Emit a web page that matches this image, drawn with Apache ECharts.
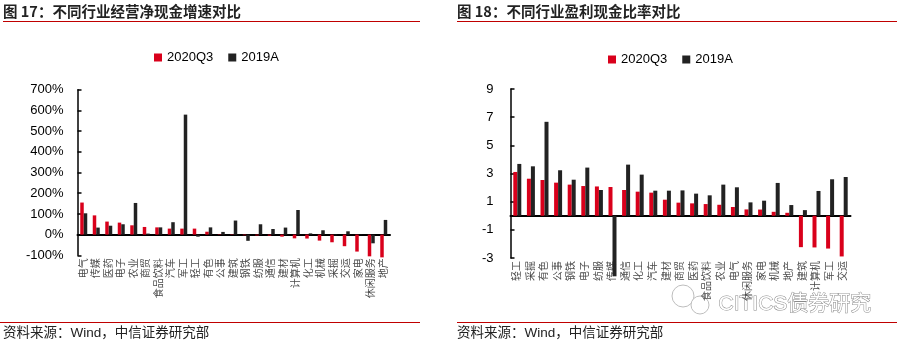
<!DOCTYPE html>
<html><head><meta charset="utf-8">
<script src="https://cdn.jsdelivr.net/npm/echarts@6/dist/echarts.min.js"></script>
<style>html,body{margin:0;padding:0;background:#fff}#c{width:902px;height:345px}</style>
</head><body><div id="c"></div>
<script>
// ---- Chart 17 data ----
var cats1 = ['电气','传媒','医药','电子','农业','商贸','食品饮料','汽车','军工','轻工','有色','公事','建筑','钢铁','纺服','通信','建材','计算机','化工','机械','采掘','交运','家电','休闲服务','地产'];
var q3_1 = [155, 93, 63, 58, 45, 37, 35, 29, 29, 29, 14, 2, -2, -3, -4, -5, -10, -18, -19, -29, -37, -56, -82, -105, -110];
var a_1  = [103, 34, 43, 50, 153, 5, 35, 60, 580, -10, 35, 13, 68, -30, 50, 27, 34, 119, 6, 21, -3, 16, 1, -42, 71];
var yTicks1 = [-100, 0, 100, 200, 300, 400, 500, 600, 700];
// ---- Chart 18 data ----
var cats2 = ['轻工','采掘','有色','公事','钢铁','电子','纺服','传媒','通信','化工','汽车','建材','商贸','医药','食品饮料','农业','电气','休闲服务','家电','机械','地产','建筑','计算机','军工','交运'];
var q3_2 = [3.11, 2.63, 2.54, 2.35, 2.21, 2.11, 2.08, 2.04, 1.83, 1.71, 1.64, 1.14, 0.93, 0.88, 0.83, 0.78, 0.62, 0.45, 0.44, 0.28, 0.21, -2.23, -2.25, -2.33, -2.89];
var a_2  = [3.68, 3.51, 6.67, 3.23, 2.56, 3.42, 1.83, -4.3, 3.63, 2.92, 1.78, 1.78, 1.80, 1.57, 1.45, 2.21, 2.02, 0.95, 1.07, 2.33, 0.76, 0.40, 1.76, 2.59, 2.75];
var yTicks2 = [-3, -1, 1, 3, 5, 7, 9];
var seriesNames = ['2020Q3', '2019A'];
var title1 = '图 17：不同行业经营净现金增速对比';
var title2 = '图 18：不同行业盈利现金比率对比';
var source = '资料来源：Wind，中信证券研究部';

var RED = '#d9001b', BLK = '#222222';
var FONT = "'Liberation Sans','Noto Sans CJK SC',sans-serif";
var chart = echarts.init(document.getElementById('c'), null, {renderer: 'canvas'});

function xAxes(cats, gi) {
  return [{
    type: 'category', gridIndex: gi, data: cats, position: 'bottom',
    axisLine: {show: false, onZero: false}, axisTick: {show: false},
    axisLabel: {rotate: 90, margin: 3, fontSize: 10, color: '#4a4a4a', fontFamily: FONT, interval: 0}
  }, {
    type: 'category', gridIndex: gi, data: cats, position: 'bottom',
    axisLine: {show: true, onZero: true, lineStyle: {color: '#000', width: 2}},
    axisTick: {show: false}, axisLabel: {show: false}
  }];
}

var yAxisCommon = {
  axisLine: {show: true, lineStyle: {color: '#000', width: 1.5}},
  axisTick: {show: true, inside: true, length: 4, lineStyle: {color: '#000', width: 1.5}},
  splitLine: {show: false}
};

function barSeries(name, data, color, xi, yi, bw) {
  return {
    type: 'bar', name: name, data: data, xAxisIndex: xi, yAxisIndex: yi,
    barWidth: bw, barGap: '0%', clip: false,
    itemStyle: {color: color}
  };
}

var option = {
  animation: false,
  textStyle: {fontFamily: FONT},
  grid: [
    {left: 77.5, top: 89.8, width: 312.5, height: 165.5},
    {left: 510.5, top: 89, width: 340, height: 169}
  ],
  legend: [
    {data: seriesNames, left: 149, top: 46, icon: 'rect', itemWidth: 8, itemHeight: 8, itemGap: 15,
     textStyle: {fontSize: 13, color: '#000', fontFamily: FONT}},
    {data: seriesNames, left: 603, top: 48, icon: 'rect', itemWidth: 8, itemHeight: 8, itemGap: 15,
     textStyle: {fontSize: 13, color: '#000', fontFamily: FONT}}
  ],
  xAxis: xAxes(cats1, 0).concat(xAxes(cats2, 1)),
  yAxis: [
    Object.assign({}, yAxisCommon, {
      type: 'value', gridIndex: 0,
      min: yTicks1[0], max: yTicks1[yTicks1.length - 1], interval: 100,
      axisLabel: {formatter: '{value}%', fontSize: 13, color: '#000', margin: 14, fontFamily: FONT}
    }),
    Object.assign({}, yAxisCommon, {
      type: 'value', gridIndex: 1,
      min: yTicks2[0], max: yTicks2[yTicks2.length - 1],
      axisTick: {show: true, inside: true, length: 4, lineStyle: {color: '#000', width: 1.5}, customValues: yTicks2},
      axisLabel: {fontSize: 13, color: '#000', margin: 17, fontFamily: FONT, customValues: yTicks2}
    })
  ],
  series: [
    barSeries(seriesNames[0], q3_1, RED, 0, 0, 3.5),
    barSeries(seriesNames[1], a_1, BLK, 0, 0, 3.5),
    barSeries(seriesNames[0], q3_2, RED, 2, 1, 4),
    barSeries(seriesNames[1], a_2, BLK, 2, 1, 4)
  ],
  graphic: [
    {type: 'text', left: 3, top: 4, style: {text: title1, fontSize: 14.5, fontWeight: 'bold', fill: '#222', fontFamily: "'Noto Sans CJK SC',sans-serif"}},
    {type: 'text', left: 457, top: 4, style: {text: title2, fontSize: 14.5, fontWeight: 'bold', fill: '#222', fontFamily: "'Noto Sans CJK SC',sans-serif"}},
    {type: 'line', shape: {x1: 3, y1: 21.5, x2: 420, y2: 21.5}, style: {stroke: '#c00000', lineWidth: 1.2}},
    {type: 'line', shape: {x1: 457, y1: 21.5, x2: 897, y2: 21.5}, style: {stroke: '#c00000', lineWidth: 1.2}},
    {type: 'line', shape: {x1: 0, y1: 322.5, x2: 420, y2: 322.5}, style: {stroke: '#c00000', lineWidth: 1.2}},
    {type: 'line', shape: {x1: 457, y1: 322.5, x2: 897, y2: 322.5}, style: {stroke: '#c00000', lineWidth: 1.2}},
    {type: 'text', left: 3, top: 327, style: {text: source, fontSize: 13.5, fill: '#222', fontFamily: FONT}},
    {type: 'text', left: 457, top: 327, style: {text: source, fontSize: 13.5, fill: '#222', fontFamily: FONT}},
    {type: 'circle', shape: {cx: 683, cy: 296, r: 11}, style: {fill: 'none', stroke: '#bdbdbd', lineWidth: 1}},
    {type: 'circle', shape: {cx: 700, cy: 305, r: 9}, style: {fill: '#fff', stroke: '#bdbdbd', lineWidth: 1}},
    {type: 'text', left: 718, top: 293, style: {text: 'CITICS债券研究', fontSize: 21, fill: '#fff', stroke: '#8a8a8a', lineWidth: 1, fontFamily: FONT}}
  ]
};
chart.setOption(option);
</script></body></html>
